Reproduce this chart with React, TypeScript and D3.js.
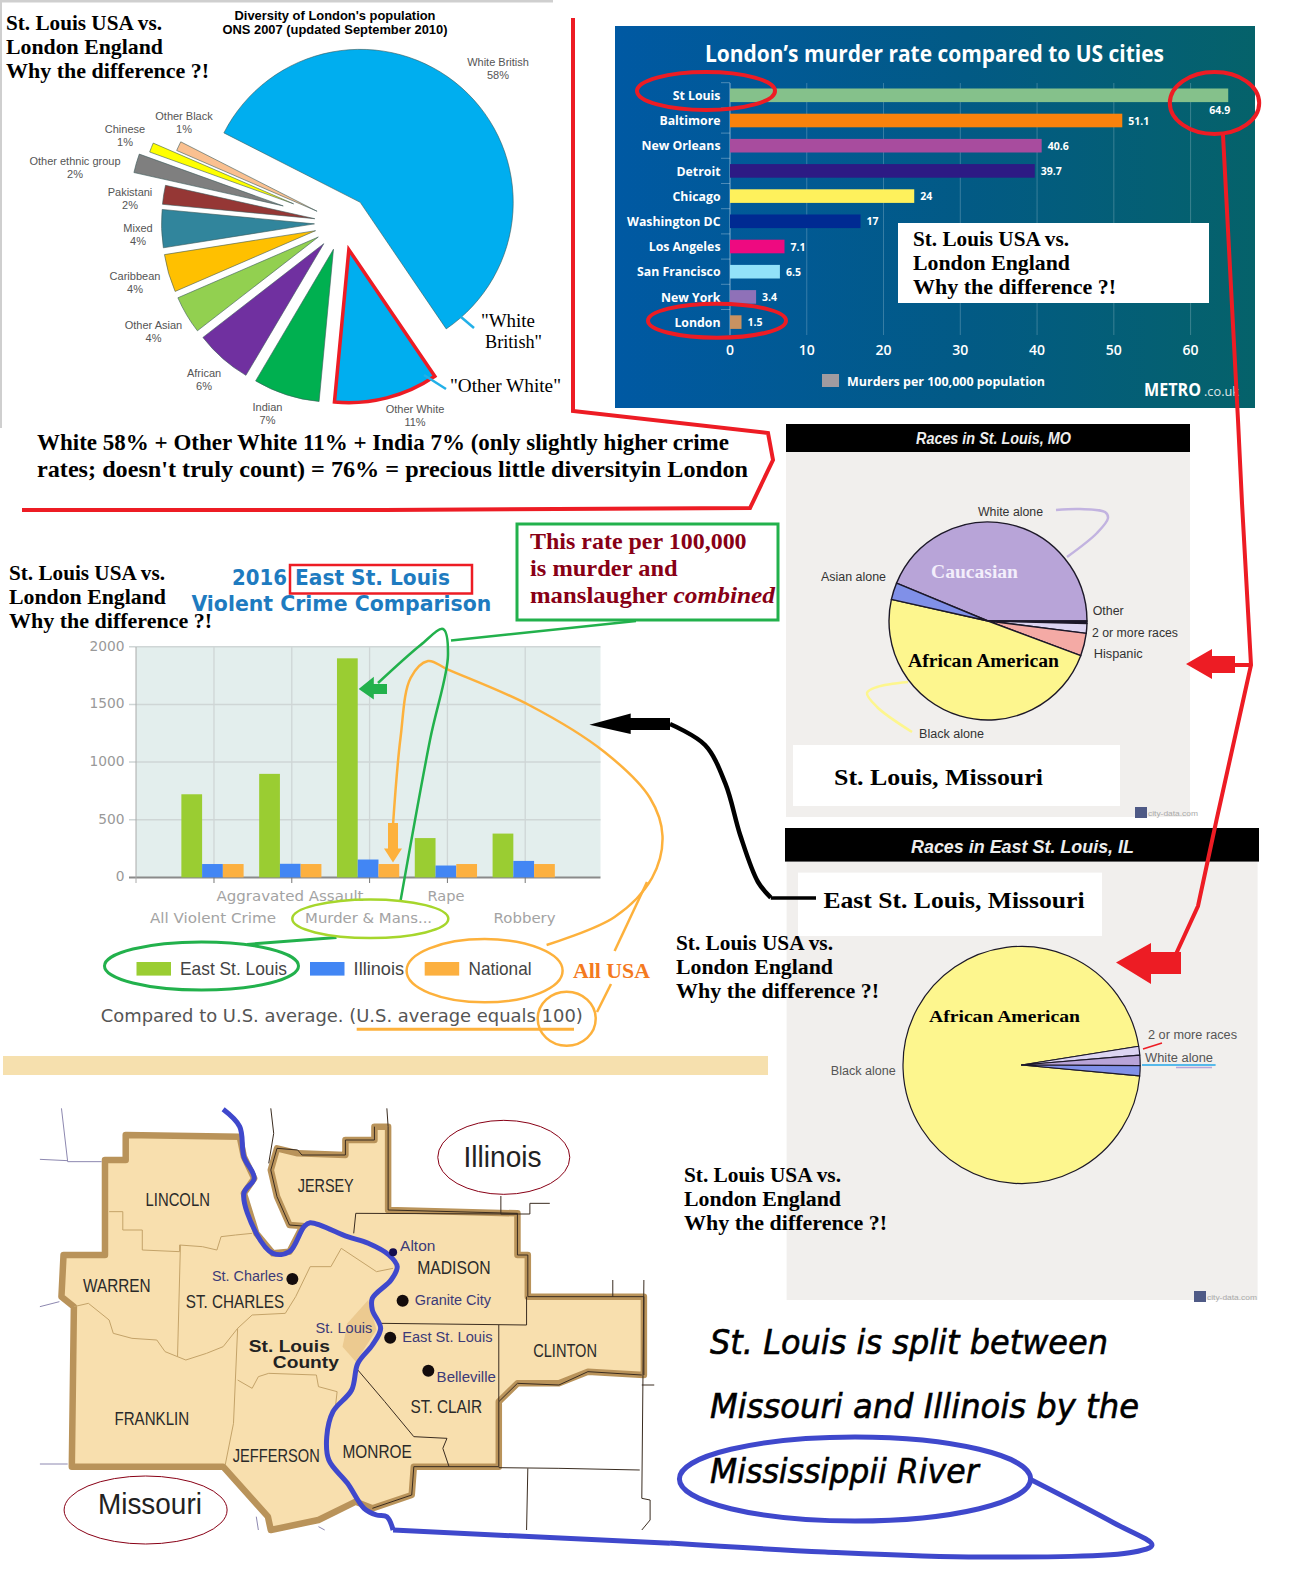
import React from 'react';
import * as d3 from 'd3';

const SERIF = "'Liberation Serif', serif";
const SANS = "'Liberation Sans', Arial, sans-serif";
const DEJA = "'DejaVu Sans', sans-serif";
const OPEN = "'Open Sans', sans-serif";

// London diversity pie
const londonGroups = ['White British', 'Other White', 'Indian', 'African', 'Other Asian', 'Caribbean', 'Mixed', 'Pakistani', 'Other ethnic  group', 'Chinese', 'Other Black'];
const londonShares = [58, 11, 7, 6, 4, 4, 4, 2, 2, 1, 1];
const londonColors = ['#00aeef', '#00aeef', '#00b050', '#7030a0', '#92d050', '#ffc000', '#31859c', '#953735', '#7f7f7f', '#ffff00', '#fac090'];
const londonExplode = [0.18, 0.18, 0.18, 0.18, 0.18, 0.18, 0.18, 0.18, 0.4, 0.34, 0.18];
const londonLabelX = [498, 415, 267.5, 204, 153.5, 135, 138, 130, 75, 125, 184];
const londonLabelY = [66, 413, 411, 377, 329, 280, 232, 196, 165, 133, 120];

// murder rate bars
const cities = ['St Louis', 'Baltimore', 'New Orleans', 'Detroit', 'Chicago', 'Washington DC', 'Los Angeles', 'San Francisco', 'New York', 'London'];
const murderRates = [64.9, 51.1, 40.6, 39.7, 24, 17, 7.1, 6.5, 3.4, 1.5];
const cityColors = ['#85c18b', '#f9820c', '#a84c9e', '#2d1a84', '#fef15c', '#002a92', '#ee0a80', '#92e2f9', '#8f71b8', '#c99261'];
const rateTicks = [0, 10, 20, 30, 40, 50, 60];

// violent crime bars
const crimes = ['All Violent Crime', 'Aggravated Assault', 'Murder & Mans...', 'Rape', 'Robbery'];
const crimeSeries = ['East St. Louis', 'Illinois', 'National'];
const eastStLouis = [721, 898, 1900, 341, 380];
const illinois = [116, 118, 155, 103, 143];
const national = [116, 116, 116, 116, 116];
const crimeColors = ['#9acd32', '#4286f4', '#fcb040'];
const crimeTicks = [0, 500, 1000, 1500, 2000];

// race pies
const stlRaces = ['White alone', 'Other', '2 or more races', 'Hispanic', 'Black alone', 'Asian alone'];
const stlShares = [43.75, 0.4, 1.6, 3.7, 47.8, 2.75];
const stlColors = ['#b8a4d8', '#1a1430', '#dcd4f2', '#f4aaa5', '#fdf68e', '#8090e8'];
const eslRaces = ['Black alone', '2 or more races', 'White alone', 'Asian alone'];
const eslShares = [96, 1.2, 1.4, 1.4];
const eslColors = ['#fdf68e', '#dcd4f2', '#b8a4d8', '#8090e8'];

// map, in the map's own grid
const mapOutline: [number, number][] = [[255, 135], [530, 140], [540, 200], [565, 265], [540, 310], [570, 430], [610, 490], [650, 485], [682, 408], [650, 405], [620, 320], [605, 240], [620, 175], [670, 190], [785, 195], [785, 150], [855, 150], [855, 110], [888, 110], [888, 360], [1200, 370], [1200, 495], [1225, 495], [1225, 620], [1505, 620], [1505, 855], [1370, 845], [1300, 880], [1200, 880], [1155, 935], [1155, 1130], [950, 1130], [945, 1215], [850, 1255], [810, 1235], [720, 1290], [605, 1320], [598, 1280], [490, 1130], [125, 1130], [130, 650], [100, 620], [105, 495], [205, 495], [205, 210], [255, 210]];
const stlCity: [number, number][] = [[840, 630], [790, 700], [778, 770], [810, 815], [860, 720], [845, 650]];
const tanBorders: [number, number][][] = [
  [[215, 365], [248, 365], [248, 420], [295, 420], [295, 480], [385, 485], [385, 465], [440, 470], [475, 480], [485, 440], [520, 435], [560, 430]],
  [[387, 465], [380, 800]],
  [[130, 650], [165, 640], [215, 690], [225, 730], [270, 745], [330, 750], [350, 785], [400, 810], [450, 790], [490, 770], [525, 715], [560, 675], [640, 670], [665, 620], [700, 530], [750, 530], [775, 475], [860, 545], [900, 535]],
  [[525, 715], [515, 1000], [495, 1125]],
  [[525, 870], [560, 895], [575, 860], [600, 850], [715, 855], [720, 890], [765, 905], [760, 960]],
];
const darkBorders: [number, number][][] = [
  [[805, 430], [810, 370], [1200, 372]],
  [[870, 700], [1222, 705], [1222, 620]],
  [[1155, 705], [1155, 935]],
  [[815, 840], [880, 935], [950, 1040], [1030, 1045], [1020, 1075], [1035, 1130]],
  [[1160, 318], [1160, 372], [1230, 372], [1230, 340], [1278, 340]],
  [[1430, 570], [1430, 620]],
  [[1505, 570], [1500, 1225], [1520, 1230], [1520, 1290], [1500, 1320]],
  [[1500, 885], [1530, 885]],
  [[1155, 1133], [1300, 1135], [1495, 1140]],
  [[1225, 1135], [1222, 1320]],
  [[885, 55], [888, 110]],
  [[605, 55], [612, 130], [600, 220]],
  [[888, 110], [888, 360], [1200, 370], [1200, 495], [1225, 495], [1225, 620], [1505, 620], [1505, 855]],
  [[1155, 935], [1200, 880], [1300, 885], [1370, 845], [1500, 855]],
  [[620, 175], [670, 180], [680, 195], [785, 195], [785, 150], [855, 150], [855, 110]],
  [[620, 175], [605, 240], [620, 320], [650, 405], [682, 408]],
  [[1155, 935], [1155, 1130], [950, 1130], [945, 1215], [850, 1255]],
];
const greyBorders: [number, number][][] = [
  [[100, 55], [115, 215], [197, 215]],
  [[48, 208], [115, 212]],
  [[48, 650], [95, 635]],
  [[48, 1122], [115, 1122]],
  [[570, 1280], [575, 1320]],
  [[720, 1310], [735, 1320]],
];
const river: [number, number][] = [[490, 58], [530, 110], [540, 200], [565, 265], [540, 310], [570, 430], [610, 490], [650, 485], [685, 410], [700, 398], [790, 440], [840, 460], [890, 495], [910, 530], [895, 570], [850, 625], [850, 660], [870, 715], [850, 765], [815, 820], [800, 900], [755, 965], [740, 1040], [745, 1110], [790, 1180], [830, 1255], [860, 1275], [885, 1280], [900, 1320]];
const riverTail: [number, number][] = [[900, 1320], [1568, 1360]];
const countyNames = ['LINCOLN', 'JERSEY', 'WARREN', 'ST. CHARLES', 'FRANKLIN', 'JEFFERSON', 'MONROE', 'ST. CLAIR', 'CLINTON', 'MADISON'];
const countySpots = [[303, 458, 347], [670, 805, 307], [152, 315, 605], [400, 637, 655], [228, 408, 1005], [513, 723, 1115], [778, 945, 1105], [942, 1115, 968], [1238, 1392, 802], [958, 1135, 553]];
const townNames = ['St. Charles', 'Alton', 'Granite City', 'East St. Louis', 'Belleville', 'St. Louis'];
const townSpots = [[463, 635, 573], [917, 1002, 483], [952, 1136, 645], [922, 1140, 757], [1005, 1148, 875], [713, 850, 730]];
const townDots = [[657, 567], [923, 632], [893, 743], [985, 842]];

const mapX = d3.scaleLinear([0, 1568], [20, 670]);
const mapY = d3.scaleLinear([0, 1440], [1090, 1570]);

type Pt = [number, number];
const poly = (pts: Pt[], closed = false) => d3.line().curve(closed ? d3.curveLinearClosed : d3.curveLinear)(pts) as string;
const curve = (pts: Pt[]) => d3.line().curve(d3.curveCatmullRom.alpha(0.5))(pts) as string;
const toMap = (pts: Pt[]): Pt[] => pts.map(([x, y]) => [mapX(x), mapY(y)]);

function T({ x, y, w, size = 12, family = SANS, weight = 'normal', fill = '#000', anchor = 'start', italic = false, heavy = 0, children }: any) {
  return (
    <text x={x} y={y} fontSize={size} fontFamily={family} fontWeight={weight} fill={fill} textAnchor={anchor} fontStyle={italic ? 'italic' : 'normal'}
      stroke={heavy ? fill : 'none'} strokeWidth={heavy}
      {...(w ? { textLength: w, lengthAdjust: 'spacingAndGlyphs' } : {})}>
      {children}
    </text>
  );
}

// the caption that keeps getting pasted everywhere
function Caption({ x, y, w1, w2, w3, size = 21, step = 24 }: any) {
  return (
    <g>
      <T x={x} y={y} w={w1} size={size} family={SERIF} weight="bold">St. Louis USA vs.</T>
      <T x={x} y={y + step} w={w2} size={size} family={SERIF} weight="bold">London England</T>
      <T x={x} y={y + step * 2} w={w3} size={size} family={SERIF} weight="bold">Why the difference ?!</T>
    </g>
  );
}

function LondonPie() {
  const r = 153, cx = 342, cy = 223;
  const start = (-63 * Math.PI) / 180;
  const slices = d3.pie<number>().sort(null).startAngle(start).endAngle(start + 2 * Math.PI)(londonShares);
  const arc = d3.arc<d3.PieArcDatum<number>>().innerRadius(0).outerRadius(r);
  return (
    <g>
      <rect x={0} y={0} width={553} height={2.5} fill="#cfcfcf" />
      <rect x={0} y={0} width={2} height={428} fill="#cfcfcf" />
      <Caption x={6} y={30} w1={156} w2={157} w3={203} size={22} />
      <T x={335} y={20} w={201} anchor="middle" size={12.5} weight="bold">Diversity of London's population</T>
      <T x={335} y={34} w={225} anchor="middle" size={12.5} weight="bold">ONS 2007 (updated September 2010)</T>
      {slices.map((s, i) => {
        const mid = (s.startAngle + s.endAngle) / 2;
        const d = londonExplode[i] * r;
        const tx = cx + d * Math.sin(mid), ty = cy - d * Math.cos(mid);
        return (
          <path key={i} d={arc(s) as string} transform={`translate(${tx},${ty})`} fill={londonColors[i]}
            stroke={i === 1 ? '#ed1c24' : '#3d5a5a'} strokeWidth={i === 1 ? 3.5 : 0.6} />
        );
      })}
      {londonGroups.map((g, i) => (
        <g key={g} fill="#555">
          <T x={londonLabelX[i]} y={londonLabelY[i]} anchor="middle" size={11} fill="#555">{g}</T>
          <T x={londonLabelX[i]} y={londonLabelY[i] + 13} anchor="middle" size={11} fill="#555">{londonShares[i]}%</T>
        </g>
      ))}
      <path d={poly([[461, 317], [474, 328]])} stroke="#22b0e8" strokeWidth={2.5} fill="none" />
      <path d={poly([[424, 375], [446, 389]])} stroke="#22b0e8" strokeWidth={2.5} fill="none" />
      <T x={481} y={327} w={54} size={18} family={SERIF}>"White</T>
      <T x={485} y={348} w={57} size={18} family={SERIF}>British"</T>
      <T x={450} y={392} w={111} size={18} family={SERIF}>"Other White"</T>
      <T x={37} y={450} w={692} size={24} family={SERIF} weight="bold">White 58% + Other White 11% + India 7% (only slightly higher crime</T>
      <T x={37} y={477} w={711} size={24} family={SERIF} weight="bold">rates; doesn't truly count) = 76% = precious little diversityin London</T>
    </g>
  );
}

function MurderBars() {
  const x = d3.scaleLinear([0, 60], [730, 1190.6]);
  const y = d3.scaleBand<string>().domain(cities).range([82.7, 334.7]).paddingInner(0.46).paddingOuter(0.23);
  return (
    <g>
      <defs>
        <linearGradient id="metro" x1="0" x2="1" y1="0" y2="0">
          <stop offset="0" stopColor="#0059a3" />
          <stop offset="0.55" stopColor="#025a85" />
          <stop offset="1" stopColor="#05626a" />
        </linearGradient>
      </defs>
      <rect x={615} y={26} width={640} height={382} fill="url(#metro)" />
      <T x={705} y={62} w={459} size={24} family={OPEN} weight="bold" fill="#fff">London’s murder rate compared to US cities</T>
      {rateTicks.map(t => (
        <g key={t}>
          <line x1={x(t)} x2={x(t)} y1={83} y2={335} stroke="#fff" strokeOpacity={t === 0 ? 0.5 : 0.22} />
          <T x={x(t)} y={355} size={14} family={OPEN} weight={600} fill="#fff" anchor="middle">{t}</T>
        </g>
      ))}
      {cities.map((c, i) => {
        const by = y(c) as number;
        const low = i === 0;
        return (
          <g key={c}>
            <line x1={721} x2={730} y1={by - 5.8} y2={by - 5.8} stroke="#fff" strokeOpacity={0.3} />
            <rect x={x(0)} y={by} width={x(murderRates[i]) - x(0)} height={y.bandwidth()} fill={cityColors[i]} />
            <T x={720.5} y={by + 11.5} size={12.3} family={OPEN} weight="bold" fill="#fff" anchor="end">{c}</T>
            <T x={low ? x(murderRates[i]) + 2 : x(murderRates[i]) + 6} y={low ? by + 25.5 : by + 11} size={10.5} family={OPEN} weight="bold" fill="#fff" anchor={low ? 'end' : 'start'}>{murderRates[i]}</T>
          </g>
        );
      })}
      <rect x={822} y={374} width={17} height={13} fill="#a09ba0" />
      <T x={847} y={386} w={198} size={12} family={OPEN} weight="bold" fill="#fff">Murders per 100,000 population</T>
      <T x={1144} y={396} w={57} size={17} family={OPEN} weight="bold" fill="#fff">METRO</T>
      <T x={1204} y={396} w={35} size={13} family={OPEN} fill="#dfe8ea">.co.uk</T>
      <rect x={898} y={223} width={311} height={80} fill="#fff" />
      <Caption x={913} y={246} w1={156} w2={157} w3={203} size={22} />
    </g>
  );
}

function CrimeBars() {
  const x0 = d3.scaleBand<string>().domain(crimes).range([165.8, 570.4]).padding(0.2);
  const x1 = d3.scaleBand<string>().domain(crimeSeries).range([0, x0.bandwidth()]);
  const y = d3.scaleLinear([0, 2000], [877.4, 646.8]);
  const series = [eastStLouis, illinois, national];
  const centre = (c: string) => (x0(c) as number) + x0.bandwidth() / 2 + 1.5;
  return (
    <g>
      <Caption x={9} y={579.5} w1={156} w2={157} w3={203} size={22} />
      <T x={232} y={585} w={55} size={22} family={DEJA} weight="bold" fill="#1e7bc0">2016</T>
      <T x={295} y={585} w={155} size={22} family={DEJA} weight="bold" fill="#1e7bc0">East St. Louis</T>
      <T x={191.4} y={611} w={300} size={22} family={DEJA} weight="bold" fill="#1e7bc0">Violent Crime Comparison</T>
      <rect x={290} y={565} width={182} height={28.5} fill="none" stroke="#ed1c24" strokeWidth={2.5} />

      <rect x={136} y={647} width={464.5} height={230} fill="#e3eeed" />
      {crimeTicks.map(t => (
        <g key={t}>
          <line x1={129} x2={600.5} y1={y(t)} y2={y(t)} stroke={t ? '#cfd6d6' : '#8a8a8a'} strokeWidth={t ? 1.5 : 2} />
          <T x={124.4} y={y(t) + 4} size={14} family={DEJA} fill="#999" anchor="end" w={String(t).length * 8.75}>{t}</T>
        </g>
      ))}
      {crimes.map(c => (
        <g key={c}>
          <line x1={centre(c)} x2={centre(c)} y1={647} y2={877} stroke="#cfd6d6" strokeWidth={1.3} />
          <line x1={centre(c)} x2={centre(c)} y1={877} y2={883} stroke="#777" />
        </g>
      ))}
      <line x1={136} x2={136} y1={647} y2={883} stroke="#aaa" />
      {series.map((vals, s) => vals.map((v, i) => (
        <rect key={`${s}-${i}`} x={(x0(crimes[i]) as number) + (x1(crimeSeries[s]) as number)} y={y(v)} width={x1.bandwidth()} height={y(0) - y(v)} fill={crimeColors[s]} />
      )))}
      {crimes.map((c, i) => (
        <T key={c} x={[213, 290, 368.6, 446, 524.6][i]} y={i % 2 ? 901 : 923} w={[126, 147, 127, 37, 62][i]} size={14} family={DEJA} fill="#a3a3a3" anchor="middle">{c}</T>
      ))}
      {crimeSeries.map((s, i) => (
        <g key={s}>
          <rect x={[136.5, 310, 424.7][i]} y={962} width={34.5} height={13.6} fill={crimeColors[i]} />
          <T x={[180, 353.6, 468.5][i]} y={975} w={[107, 50.4, 63][i]} size={19} fill="#444">{s}</T>
        </g>
      ))}
      <T x={100.8} y={1022} w={482} size={17.5} family={DEJA} fill="#555">Compared to U.S. average. (U.S. average equals 100)</T>

      <rect x={517} y={524} width={261} height={96} fill="#fff" stroke="#22b14c" strokeWidth={3} />
      <T x={530} y={548.6} w={216.6} size={23} family={SERIF} weight="bold" fill="#880015">This rate per 100,000</T>
      <T x={530} y={575.6} w={147.6} size={23} family={SERIF} weight="bold" fill="#880015">is murder and</T>
      <T x={530} y={603} w={137.5} size={23} family={SERIF} weight="bold" fill="#880015">manslaugher</T>
      <T x={673.5} y={603} w={101.5} size={23} family={SERIF} weight="bold" italic fill="#880015">combined</T>

      {/* orange notes */}
      <g fill="none" stroke="#fdb13c" strokeWidth={2.5}>
        <path d={curve([[393, 825], [400.5, 738], [410.6, 678], [428, 661], [448, 669.6], [529, 705], [604.5, 752], [650, 798], [662.5, 836], [652, 878], [614.6, 917], [546.6, 945]])} />
        <path d={poly([[647, 882], [614.6, 951]])} />
        <path d={poly([[611, 984], [597, 1012]])} />
        <ellipse cx={484.6} cy={970.7} rx={78} ry={31.6} />
        <ellipse cx={566.7} cy={1018.8} rx={29} ry={27} />
        <path d={poly([[356.7, 1029.3], [574, 1029.3]])} strokeWidth={3} />
      </g>
      <path d={poly([[388, 823], [398, 823], [398, 848.6], [402, 848.6], [393, 862.6], [384, 848.6], [388, 848.6]], true)} fill="#fdb13c" />
      <T x={573} y={977.7} w={77} size={21} family={SERIF} weight="bold" fill="#f47a20">All USA</T>

      {/* green notes */}
      <g fill="none" stroke="#22b14c" strokeWidth={2.5}>
        <path d={poly([[636, 621], [451, 640.5]])} />
        <path d={curve([[400.5, 901], [430, 740], [448, 655], [443, 629], [420.6, 645], [378, 683]])} />
        <ellipse cx={201.5} cy={966} rx={97} ry={24} strokeWidth={3} />
        <path d={poly([[247, 944.4], [336.5, 937.4]])} strokeWidth={3} />
      </g>
      <ellipse cx={370.3} cy={918.8} rx={78} ry={19.3} fill="none" stroke="#a6d62c" strokeWidth={2.5} />
      <path d={poly([[358.7, 689], [373.8, 676.7], [373.8, 684], [387, 684], [387, 694], [373.8, 694], [373.8, 699.5]], true)} fill="#22b14c" />

      {/* black arrow from the East St. Louis pie */}
      <path d={curve([[670, 724], [705, 745], [725.4, 783.7], [740.5, 836], [758, 882], [770.8, 897.7]])} fill="none" stroke="#000" strokeWidth={4.5} />
      <path d={poly([[770.8, 898], [816, 898]])} fill="none" stroke="#000" strokeWidth={3.5} />
      <path d={poly([[589.4, 724.7], [630.7, 713.5], [630.7, 718], [670, 718], [670, 730], [630.7, 730], [630.7, 734]], true)} fill="#000" />
    </g>
  );
}

function RacePie({ shares, colors, cx, cy, r, startDeg, line }: any) {
  const start = (startDeg * Math.PI) / 180;
  const slices = d3.pie<number>().sort(null).startAngle(start).endAngle(start + 2 * Math.PI)(shares);
  const arc = d3.arc<d3.PieArcDatum<number>>().innerRadius(0).outerRadius(r);
  return (
    <g transform={`translate(${cx},${cy})`}>
      {slices.map((s, i) => (
        <path key={i} d={arc(s) as string} fill={colors[i]} stroke="#1c1828" strokeWidth={line} strokeLinejoin="round" />
      ))}
    </g>
  );
}

function CityData({ x, y }: any) {
  return (
    <g>
      <rect x={x} y={y} width={12} height={11} fill="#4f5a86" />
      <T x={x + 13} y={y + 9} w={50} size={7} fill="#aaa">city-data.com</T>
    </g>
  );
}

function StLouisRaces() {
  return (
    <g>
      <rect x={786} y={452} width={404} height={365} fill="#f1efed" />
      <rect x={786} y={424} width={404} height={28} fill="#000" />
      <T x={916} y={444} w={155} size={16} weight="bold" italic fill="#eee">Races in St. Louis, MO</T>
      <RacePie shares={stlShares} colors={stlColors} cx={988} cy={621} r={99} startDeg={-67.5} line={1.4} />
      <path d={curve([[1056, 510], [1080, 509], [1105, 512], [1108, 518], [1097, 533], [1067, 557]])} fill="none" stroke="#c2b3e0" strokeWidth={2.5} />
      <path d={curve([[908, 682], [877, 687], [867, 693], [877, 707], [912, 732]])} fill="none" stroke="#fdf68e" strokeWidth={2.5} />
      <T x={931} y={578} w={87} size={18} family={SERIF} weight="bold" fill="#f3eefb">Caucasian</T>
      <T x={908} y={667} w={151} size={18} family={SERIF} weight="bold">African American</T>
      <T x={978} y={516} w={65} size={12.5} fill="#333">{stlRaces[0]}</T>
      <T x={821} y={581} w={65} size={12.5} fill="#333">{stlRaces[5]}</T>
      <T x={1092.7} y={615} w={31} size={12.5} fill="#333">{stlRaces[1]}</T>
      <T x={1092} y={637} w={86} size={12.5} fill="#333">{stlRaces[2]}</T>
      <T x={1093.7} y={658} w={49} size={12.5} fill="#333">{stlRaces[3]}</T>
      <T x={919} y={738} w={65} size={12.5} fill="#333">{stlRaces[4]}</T>
      <rect x={793} y={745} width={327} height={61} fill="#fff" />
      <T x={834} y={785} w={209} size={24} family={SERIF} weight="bold">St. Louis, Missouri</T>
      <CityData x={1135} y={807} />
    </g>
  );
}

function EastStLouisRaces() {
  return (
    <g>
      <rect x={786.6} y={862} width={471} height={438} fill="#f1efed" />
      <rect x={785} y={828} width={474} height={33.6} fill="#000" />
      <T x={911} y={852.5} w={223} size={19} weight="bold" italic fill="#eee">Races in East St. Louis, IL</T>
      <rect x={798} y={872.6} width={304} height={63.4} fill="#fff" />
      <T x={823.5} y={907.5} w={261} size={24} family={SERIF} weight="bold">East St. Louis, Missouri</T>
      <RacePie shares={eslShares} colors={eslColors} cx={1021.6} cy={1065} r={118.6} startDeg={95.3} line={1.2} />
      <T x={929} y={1022} w={151} size={17} family={SERIF} weight="bold">African American</T>
      <T x={830.8} y={1074.5} w={65} size={12.5} fill="#555">{eslRaces[0]}</T>
      <T x={1148} y={1038.7} w={89} size={12.5} fill="#555">{eslRaces[1]}</T>
      <T x={1145} y={1061.6} w={68} size={12.5} fill="#555">{eslRaces[2]}</T>
      <path d={poly([[1142, 1065], [1215.6, 1065]])} stroke="#22a7e8" strokeWidth={1.5} fill="none" />
      <path d={poly([[1176, 1067.5], [1212, 1067.5]])} stroke="#b8a4d8" strokeWidth={1.5} fill="none" />
      <path d={poly([[1143, 1049], [1162, 1043]])} stroke="#ed1c24" strokeWidth={1.5} fill="none" />
      <CityData x={1194} y={1291} />
      <Caption x={676} y={950} w1={157} w2={157} w3={203} size={20} />
      <Caption x={684} y={1182} w1={157} w2={157} w3={203} size={20} />
    </g>
  );
}

function CountyMap() {
  return (
    <g>
      <rect x={3} y={1056} width={765} height={19} fill="#f6e0ae" />
      <path d={poly(toMap(mapOutline), true)} fill="#f8dfae" stroke="#b9935a" strokeWidth={6.5} strokeLinejoin="round" />
      <path d={poly(toMap(stlCity), true)} fill="#ecca90" />
      {tanBorders.map((b, i) => <path key={i} d={poly(toMap(b))} fill="none" stroke="#c4a369" strokeWidth={1} />)}
      {darkBorders.map((b, i) => <path key={i} d={poly(toMap(b))} fill="none" stroke="#3a2c20" strokeWidth={1} />)}
      {greyBorders.map((b, i) => <path key={i} d={poly(toMap(b))} fill="none" stroke="#8d88b0" strokeWidth={1} />)}
      <path d={curve(toMap(river))} fill="none" stroke="#3f48cc" strokeWidth={5} strokeLinejoin="round" />
      <path d={poly(toMap(riverTail))} fill="none" stroke="#3f48cc" strokeWidth={5} />
      {townDots.map(([x, y], i) => <circle key={i} cx={mapX(x)} cy={mapY(y)} r={6} fill="#140c0c" />)}
      <circle cx={mapX(900)} cy={mapY(487)} r={4} fill="#140c4c" />
      {countyNames.map((n, i) => (
        <T key={n} x={mapX(countySpots[i][0])} y={mapY(countySpots[i][2])} w={(countySpots[i][1] - countySpots[i][0]) / 2.412} size={18} fill="#2a2a2a">{n}</T>
      ))}
      {townNames.map((n, i) => (
        <T key={n} x={mapX(townSpots[i][0])} y={mapY(townSpots[i][2])} w={(townSpots[i][1] - townSpots[i][0]) / 2.412} size={14} fill="#3c3a78">{n}</T>
      ))}
      <T x={mapX(552)} y={mapY(785)} w={81} size={16} weight="bold" fill="#222">St. Louis</T>
      <T x={mapX(610)} y={mapY(835)} w={66} size={16} weight="bold" fill="#222">County</T>
      <ellipse cx={mapX(1167)} cy={mapY(202)} rx={66} ry={37} fill="#fff" stroke="#880015" />
      <T x={mapX(1070)} y={mapY(232)} w={78} size={29} fill="#222">Illinois</T>
      <ellipse cx={mapX(303)} cy={mapY(1260)} rx={81.5} ry={34} fill="#fff" stroke="#880015" />
      <T x={mapX(188)} y={mapY(1272)} w={104} size={29} fill="#222">Missouri</T>
    </g>
  );
}

function RiverNote() {
  return (
    <g>
      <T x={710} y={1353.5} w={398} size={34} family={DEJA} italic heavy={0.6}>St. Louis is split between</T>
      <T x={710} y={1418} w={429} size={34} family={DEJA} italic heavy={0.6}>Missouri and Illinois by the</T>
      <T x={710} y={1482.7} w={268.6} size={34} family={DEJA} italic heavy={0.6}>Mississippii River</T>
      <ellipse cx={855} cy={1479} rx={175.6} ry={42} fill="none" stroke="#3f48cc" strokeWidth={5} />
      <path d={curve([[1031.6, 1480], [1114, 1523], [1152, 1545], [1134, 1552], [981, 1557], [825, 1552], [670, 1543]])} fill="none" stroke="#3f48cc" strokeWidth={5} />
    </g>
  );
}

function RedNotes() {
  const red = '#ed1c24';
  return (
    <g>
      <g fill="none" stroke={red} strokeWidth={4}>
        <ellipse cx={706} cy={91} rx={69} ry={19} />
        <ellipse cx={1214.5} cy={103} rx={44.7} ry={31} />
        <ellipse cx={717} cy={320.7} rx={69} ry={17} />
        <path d={poly([[573, 18], [573, 411], [768, 433], [773, 460], [750, 508], [384, 510], [22, 510]])} />
        <path d={poly([[1223, 135], [1238, 420], [1242, 503], [1251, 665], [1216.5, 820], [1198, 906], [1176, 954]])} />
        <path d={poly([[1235, 665], [1251, 665]])} />
      </g>
      <path d={poly([[1186, 664], [1212, 649], [1212, 656], [1235, 656], [1235, 673], [1212, 673], [1212, 679]], true)} fill={red} />
      <path d={poly([[1116, 962.6], [1151, 943], [1151, 952], [1181, 952], [1181, 974], [1151, 974], [1151, 984]], true)} fill={red} />
    </g>
  );
}

export default function App() {
  return (
    <svg width={1296} height={1584} viewBox="0 0 1296 1584" style={{ position: 'absolute', left: 0, top: 0, background: '#fff' }}>
      <LondonPie />
      <MurderBars />
      <StLouisRaces />
      <EastStLouisRaces />
      <CrimeBars />
      <CountyMap />
      <RiverNote />
      <RedNotes />
    </svg>
  );
}
